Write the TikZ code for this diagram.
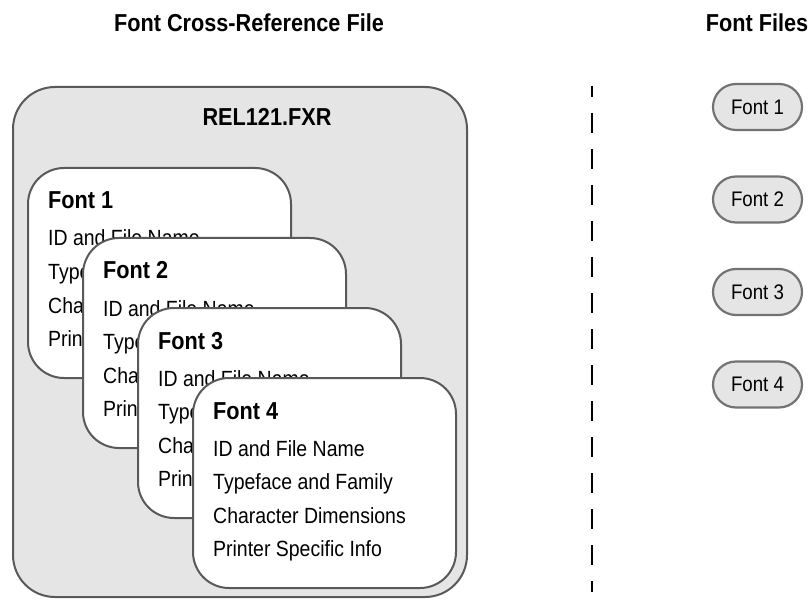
\documentclass[tikz,border=0pt]{standalone}
\usepackage{fontspec}
\setmainfont{Liberation Sans}[FakeStretch=0.885]
\usetikzlibrary{calc}
\begin{document}
\begin{tikzpicture}[x=1pt,y=-1pt,
  boxline/.style={draw=black!65, line width=2pt},
  outerbox/.style={boxline, fill=black!10, rectangle, rounded corners=42pt, minimum width=454pt, minimum height=510pt, inner sep=0pt},
  cardbox/.style={boxline, fill=white, rectangle, rounded corners=36pt, minimum width=263pt, minimum height=210pt, inner sep=0pt, anchor=north west},
  cardhead/.style={anchor=base west, inner sep=0pt, font=\fontsize{24.5}{27}\selectfont\bfseries},
  cardline/.style={anchor=base west, inner sep=0pt, font=\fontsize{22}{25}\selectfont},
  titletext/.style={anchor=base, inner sep=0pt, font=\fontsize{24.5}{27}\selectfont\bfseries},
  pill/.style={draw=black!55, line width=2.2pt, fill=black!10, rectangle, rounded corners=23pt, minimum width=89pt, minimum height=46pt, inner sep=0pt, font=\fontsize{21.1}{23}\selectfont},
  sep/.style={line width=2.5pt, dash pattern=on 20pt off 16pt, dash phase=9pt}]
\useasboundingbox (0,0) rectangle (810,601);
% titles
\node[titletext] (t1) at (249,32) {Font Cross-Reference File};
\node[titletext] (t2) at (757,32) {Font Files};
% outer file box
\node[outerbox] (outer) at (240,342) {};
\node[titletext] (rel) at (267,126) {REL121.FXR};
% font cards
\foreach \i in {1,2,3,4}{
  \node[cardbox] (c\i) at ({27+55*(\i-1)},{167+70*(\i-1)}) {};
  \node[cardhead] (h\i) at ($(c\i.north west)+(21,42)$) {Font \i};
  \node[cardline] (a\i) at ($(c\i.north west)+(21,79)$) {ID and File Name};
  \node[cardline] (b\i) at ($(c\i.north west)+(21,112.5)$) {Typeface and Family};
  \node[cardline] (d\i) at ($(c\i.north west)+(21,146)$) {Character Dimensions};
  \node[cardline] (e\i) at ($(c\i.north west)+(21,179.5)$) {Printer Specific Info};
}
% separator
\coordinate (dtop) at (592,86);
\coordinate (dbot) at (592,592);
\draw[sep] (dtop) -- (dbot);
% font files
\foreach \i in {1,2,3,4}{
  \node[pill] (f\i) at (757.5,{107+92.5*(\i-1)}) {Font \i};
}
\end{tikzpicture}
\end{document}
